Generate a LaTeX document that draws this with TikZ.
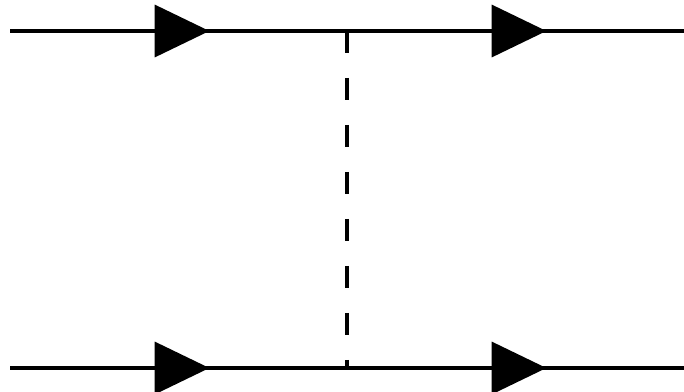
\documentclass[tikz,border=0pt]{standalone}
\usetikzlibrary{arrows.meta, decorations.markings}

\begin{document}
\begin{tikzpicture}[x=0.025cm, y=-0.025cm, line width=2.6pt,
    fermion/.style={postaction={decorate}, decoration={markings,
        mark=at position 0.5 with {\arrow[xshift=22pt]{Triangle[length=39pt, width=37pt]}}}},
    scalar/.style={dash pattern=on 15.6pt off 17.8pt}]

    % marco de la figura
    \useasboundingbox (0,0) rectangle (684,391);

    % extremos y vertices
    \coordinate (A1) at (10,31);
    \coordinate (V1) at (347,31);
    \coordinate (B1) at (684,31);
    \coordinate (A2) at (10,368);
    \coordinate (V2) at (347,368);
    \coordinate (B2) at (684,368);

    % lineas de fermiones
    \draw[fermion] (A1) -- (V1);
    \draw[fermion] (V1) -- (B1);
    \draw[fermion] (A2) -- (V2);
    \draw[fermion] (V2) -- (B2);

    % propagador escalar
    \draw[scalar] (V1) -- (V2);
\end{tikzpicture}
\end{document}
